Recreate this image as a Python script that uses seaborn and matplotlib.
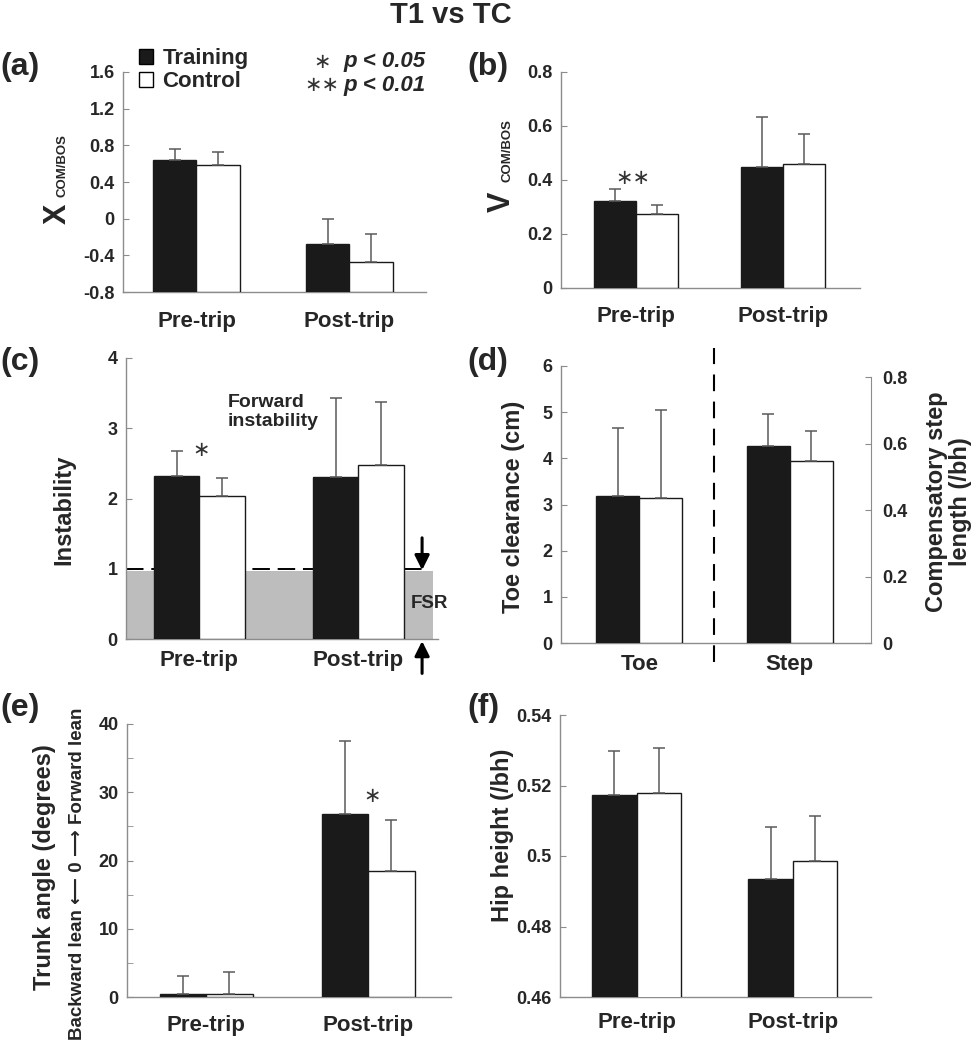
import matplotlib.pyplot as plt
import matplotlib.transforms as mtransforms
from matplotlib.patches import Patch, Rectangle
import pandas as pd
import seaborn as sns

groups = ["Training", "Control"]
trips = ["Pre-trip", "Post-trip"]

# (a) XCOM/BOS
xcom_train = [0.64, -0.28]
xcom_ctrl = [0.587, -0.475]
xcom_train_sd = [0.125, 0.28]
xcom_ctrl_sd = [0.14, 0.31]

# (b) VCOM/BOS
vcom_train = [0.321, 0.449]
vcom_ctrl = [0.275, 0.46]
vcom_train_sd = [0.047, 0.185]
vcom_ctrl_sd = [0.034, 0.112]

# (c) instability
inst_train = [2.32, 2.30]
inst_ctrl = [2.03, 2.48]
inst_train_sd = [0.35, 1.13]
inst_ctrl_sd = [0.26, 0.90]
fsr_upper = 0.97

# (d) toe clearance (left axis) / step length (right axis)
d_cats = ["Toe", "Step"]
toe_train = [3.19]
toe_ctrl = [3.13]
toe_train_sd = [1.46]
toe_ctrl_sd = [1.91]
step_train = [0.593]
step_ctrl = [0.548]
step_train_sd = [0.097]
step_ctrl_sd = [0.090]

# (e) trunk angle
trunk_train = [0.44, 26.8]
trunk_ctrl = [0.44, 18.5]
trunk_train_sd = [2.6, 10.7]
trunk_ctrl_sd = [3.2, 7.5]

# (f) hip height
hip_train = [0.5173, 0.4935]
hip_ctrl = [0.518, 0.4987]
hip_train_sd = [0.0124, 0.0148]
hip_ctrl_sd = [0.0125, 0.0127]

PAL = {"Training": "#1a1a1a", "Control": "white"}
GRAY = "#8c8c8c"
ERR = "#5a5a5a"

sns.set_style("white")
plt.rcParams["font.family"] = ["Liberation Sans", "DejaVu Sans"]
plt.rcParams["font.weight"] = "bold"
plt.rcParams["axes.labelweight"] = "bold"

W, H = 976, 1050
fig = plt.figure(figsize=(W / 100, H / 100), dpi=100)


def box(l, r, t, b):
    return [l / W, 1 - b / H, (r - l) / W, (b - t) / H]


def bars(ax, cats, train, ctrl, train_sd, ctrl_sd, order=None, bottom=None):
    n = len(cats)
    df = pd.DataFrame({"cat": list(cats) * 2,
                       "group": [groups[0]] * n + [groups[1]] * n,
                       "value": list(train) + list(ctrl)})
    sns.barplot(data=df, x="cat", y="value", hue="group", order=order or cats,
                hue_order=groups, palette=PAL, edgecolor="#1a1a1a", linewidth=1,
                width=0.57, errorbar=None, legend=False, ax=ax, zorder=3)
    for cont, sd in zip(list(ax.containers)[:2], [train_sd, ctrl_sd]):
        for p, s in zip(cont, sd):
            top = p.get_y() + p.get_height()
            if bottom is not None:
                p.set_y(bottom)
                p.set_height(top - bottom)
            ax.errorbar(p.get_x() + p.get_width() / 2, top, yerr=[[0], [s]],
                        color=ERR, lw=1.1, capsize=4, capthick=1.1, zorder=4)


def style(ax, xlim, ylim, yticks, ylabels, xpad):
    ax.set_xlim(xlim)
    ax.set_ylim(ylim)
    ax.set_yticks(yticks, ylabels)
    ax.set_xticks([0.5, 1.5], minor=True)
    ax.tick_params(axis="x", which="major", length=0, pad=xpad, labelsize=16)
    ax.tick_params(axis="x", which="minor", direction="in", length=4, color=GRAY)
    ax.tick_params(axis="y", which="both", direction="in", length=4, color=GRAY,
                   labelsize=13, pad=6, left=True)
    ax.set_xlabel("")
    ax.set_ylabel("")
    for s in ["top", "right"]:
        ax.spines[s].set_visible(False)
    for s in ["left", "bottom"]:
        ax.spines[s].set_color(GRAY)
        ax.spines[s].set_linewidth(1)


def sub_label(ax, x, y0, y1, main, sub):
    ax.text(x, y0, main, transform=ax.transAxes, rotation=90, rotation_mode="anchor",
            ha="left", va="baseline", fontsize=22, fontweight="bold")
    ax.text(x, y1, sub, transform=ax.transAxes, rotation=90, rotation_mode="anchor",
            ha="left", va="baseline", fontsize=9.5, fontweight="bold")


def star(ax, x, y, s):
    ax.text(x, y, s, ha="center", va="center", fontsize=15, fontweight="normal",
            family="DejaVu Sans", color="#333333")


# ---- (a)
ax_a = fig.add_axes(box(123, 426, 72, 292))
bars(ax_a, trips, xcom_train, xcom_ctrl, xcom_train_sd, xcom_ctrl_sd, bottom=-0.8)
style(ax_a, (-0.48, 1.49), (-0.8, 1.6), [-0.8, -0.4, 0, 0.4, 0.8, 1.2, 1.6],
      ["-0.8", "-0.4", "0", "0.4", "0.8", "1.2", "1.6"], 14)
sub_label(ax_a, -0.19, 0.31, 0.43, "X", "COM/BOS")

# ---- (b)
ax_b = fig.add_axes(box(561, 860, 72, 288))
bars(ax_b, trips, vcom_train, vcom_ctrl, vcom_train_sd, vcom_ctrl_sd)
style(ax_b, (-0.51, 1.52), (0, 0.8), [0, 0.2, 0.4, 0.6, 0.8],
      ["0", "0.2", "0.4", "0.6", "0.8"], 13)
sub_label(ax_b, -0.17, 0.35, 0.49, "V", "COM/BOS")
star(ax_b, -0.02, 0.407, "\u2217\u2217")

# ---- (c)
ax_c = fig.add_axes(box(126, 438, 358, 639))
bars(ax_c, trips, inst_train, inst_ctrl, inst_train_sd, inst_ctrl_sd)
xl_c = (-0.46, 1.44)
style(ax_c, xl_c, (0, 4), [0, 1, 2, 3, 4], ["0", "1", "2", "3", "4"], 8)
ax_c.set_ylabel("Instability", fontsize=17)
ax_c.yaxis.set_label_coords(-0.163, 0.46)
ax_c.add_patch(Rectangle((xl_c[0], 0), 1.47 - xl_c[0], fsr_upper, fc="#bdbdbd",
                         ec="none", zorder=0.5, clip_on=False))
ax_c.plot([xl_c[0], 1.40], [1, 1], color="black", lw=1.4, dashes=(9, 4), zorder=1)
arrow = dict(arrowstyle="-|>", color="black", lw=2.2, mutation_scale=22,
             shrinkA=0, shrinkB=0)
ax_c.annotate("", xy=(1.40, 0.98), xytext=(1.40, 1.44), arrowprops=arrow,
              annotation_clip=False)
ax_c.annotate("", xy=(1.40, -0.03), xytext=(1.40, -0.49), arrowprops=arrow,
              annotation_clip=False)
ax_c.text(1.445, 0.51, "FSR", ha="center", va="center", fontsize=13.5)
ax_c.text(0.18, 3.23, "Forward\ninstability", ha="left", va="center", fontsize=14,
          linespacing=1.15)
star(ax_c, 0.01, 2.69, "\u2217")

# ---- (d)
ax_d = fig.add_axes(box(561, 871, 366, 643))
bars(ax_d, ["Toe"], toe_train, toe_ctrl, toe_train_sd, toe_ctrl_sd, order=d_cats)
ax_d2 = ax_d.twinx()
bars(ax_d2, ["Step"], step_train, step_ctrl, step_train_sd, step_ctrl_sd, order=d_cats)
style(ax_d, (-0.52, 1.54), (0, 6), [0, 1, 2, 3, 4, 5, 6],
      ["0", "1", "2", "3", "4", "5", "6"], 8)
ax_d.set_ylabel("Toe clearance (cm)", fontsize=17)
ax_d.yaxis.set_label_coords(-0.116, 0.49)
ax_d2.set_ylim(0, 0.8 * 832 / 798)
ax_d2.set_yticks([0, 0.2, 0.4, 0.6, 0.8], ["0", "0.2", "0.4", "0.6", "0.8"])
ax_d2.tick_params(axis="y", direction="in", length=4, color=GRAY, labelsize=13, pad=8,
                  right=True)
for s in ["top", "left", "bottom"]:
    ax_d2.spines[s].set_visible(False)
ax_d2.spines["right"].set_color(GRAY)
ax_d2.spines["right"].set_bounds(0, 0.8)
ax_d2.set_xlabel("")
ax_d2.set_ylabel("")
ax_d2.text(1.25, 0.51, "Compensatory step\nlength (/bh)", transform=ax_d2.transAxes,
           rotation=90, ha="center", va="center", fontsize=17, linespacing=1.1)
ax_d2.set_xlim(-0.52, 1.54)
trans = mtransforms.blended_transform_factory(ax_d.transData, ax_d.transAxes)
ax_d.plot([0.5, 0.5], [-0.069, 1.065], transform=trans, color="black", lw=1.5,
          dashes=(8, 5), clip_on=False, zorder=5)

# ---- (e)
ax_e = fig.add_axes(box(127, 451, 724, 997))
bars(ax_e, trips, trunk_train, trunk_ctrl, trunk_train_sd, trunk_ctrl_sd)
style(ax_e, (-0.49, 1.51), (0, 40), [0, 10, 20, 30, 40],
      ["0", "10", "20", "30", "40"], 13)
ax_e.set_yticks([5, 15, 25, 35], minor=True)
ax_e.set_ylabel("Trunk angle (degrees)", fontsize=17)
ax_e.yaxis.set_label_coords(-0.219, 0.476)
ax_e.text(-0.154, 0.45, "Backward lean \u27f5 0 \u27f6 Forward lean", transform=ax_e.transAxes,
          rotation=90, ha="center", va="center", fontsize=13.5)
star(ax_e, 1.02, 29.4, "\u2217")

# ---- (f)
ax_f = fig.add_axes(box(560, 871, 715, 997))
bars(ax_f, trips, hip_train, hip_ctrl, hip_train_sd, hip_ctrl_sd)
style(ax_f, (-0.49, 1.50), (0.46, 0.54), [0.46, 0.48, 0.5, 0.52, 0.54],
      ["0.46", "0.48", "0.5", "0.52", "0.54"], 11)
ax_f.set_ylabel("Hip height (/bh)", fontsize=17)
ax_f.yaxis.set_label_coords(-0.148, 0.574)

# legend and significance key
handles = [Patch(fc=PAL[g], ec="black", lw=1) for g in groups]
fig.legend(handles, groups, loc="upper left", bbox_to_anchor=(139 / W, 1 - 48 / H),
           frameon=False, handlelength=0.65, handleheight=0.65, handletextpad=0.4,
           labelspacing=0.1, borderpad=0, borderaxespad=0,
           prop=dict(size=16, weight="bold"))
for ypx, s, p in [(62, "\u2217", "p < 0.05"), (85, "\u2217\u2217", "p < 0.01")]:
    fig.text(322 / W, 1 - ypx / H, s, ha="center", va="center", fontsize=15,
             family="DejaVu Sans", fontweight="normal", color="#333333")
    fig.text(343 / W, 1 - ypx / H, p, ha="left", va="center", fontsize=16,
             style="italic", fontweight="bold")

# title and panel letters
fig.text(451 / W, 1 - 23 / H, "T1 vs TC", ha="center", va="baseline", fontsize=21,
         fontweight="bold")
for lab, xpx, ypx in [("(a)", 0, 67), ("(b)", 467, 67), ("(c)", 0, 362),
                      ("(d)", 467, 362), ("(e)", 0, 708), ("(f)", 467, 708)]:
    fig.text(xpx / W, 1 - ypx / H, lab, ha="left", va="center", fontsize=23,
             fontweight="bold")

fig.savefig("out.png", dpi=100)
